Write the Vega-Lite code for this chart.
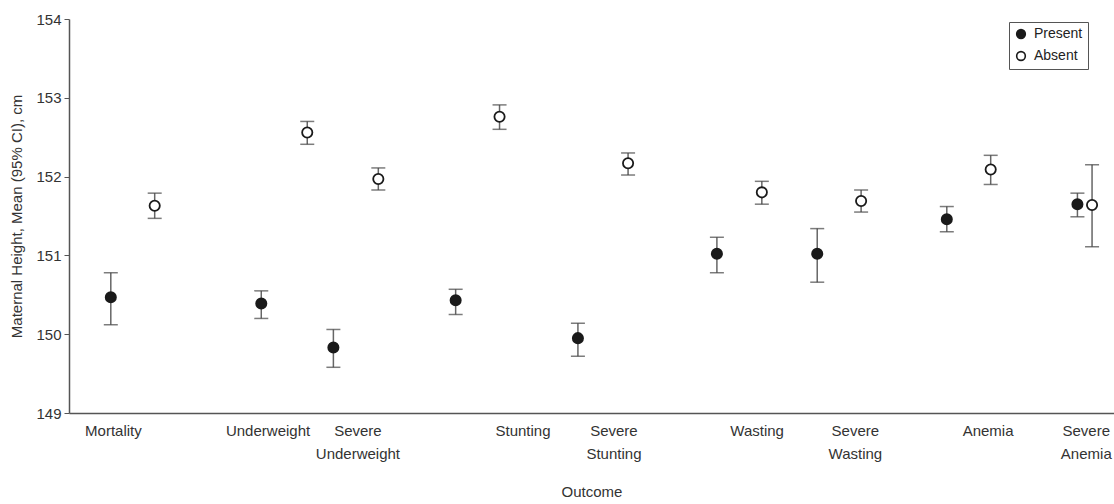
{
  "$schema": "https://vega.github.io/schema/vega-lite/v6.json",
  "width": 1045,
  "height": 394,
  "autosize": {"type": "none"},
  "padding": {"left": 69, "top": 19, "right": 0, "bottom": 91},
  "background": "white",
  "config": {
    "view": {"stroke": null},
    "font": "Liberation Sans",
    "axis": {"labelFont": "Liberation Sans", "titleFont": "Liberation Sans", "labelColor": "#333", "titleColor": "#333", "labelFontSize": 15, "titleFontSize": 15, "titleFontWeight": "normal", "grid": false, "domainColor": "#555", "domainWidth": 1.5, "tickColor": "#555"}
  },
  "data": {
    "values": [
      {"outcome": "Mortality", "group": "Present", "pos": 4.0, "mean": 150.47, "lo": 150.12, "hi": 150.78},
      {"outcome": "Mortality", "group": "Absent", "pos": 8.2, "mean": 151.63, "lo": 151.47, "hi": 151.79},
      {"outcome": "Underweight", "group": "Present", "pos": 18.4, "mean": 150.39, "lo": 150.20, "hi": 150.55},
      {"outcome": "Underweight", "group": "Absent", "pos": 22.8, "mean": 152.56, "lo": 152.41, "hi": 152.70},
      {"outcome": "Severe Underweight", "group": "Present", "pos": 25.3, "mean": 149.83, "lo": 149.58, "hi": 150.06},
      {"outcome": "Severe Underweight", "group": "Absent", "pos": 29.6, "mean": 151.97, "lo": 151.83, "hi": 152.11},
      {"outcome": "Stunting", "group": "Present", "pos": 37.0, "mean": 150.43, "lo": 150.25, "hi": 150.57},
      {"outcome": "Stunting", "group": "Absent", "pos": 41.2, "mean": 152.76, "lo": 152.60, "hi": 152.91},
      {"outcome": "Severe Stunting", "group": "Present", "pos": 48.7, "mean": 149.95, "lo": 149.72, "hi": 150.14},
      {"outcome": "Severe Stunting", "group": "Absent", "pos": 53.5, "mean": 152.17, "lo": 152.02, "hi": 152.30},
      {"outcome": "Wasting", "group": "Present", "pos": 62.0, "mean": 151.02, "lo": 150.78, "hi": 151.23},
      {"outcome": "Wasting", "group": "Absent", "pos": 66.3, "mean": 151.80, "lo": 151.65, "hi": 151.94},
      {"outcome": "Severe Wasting", "group": "Present", "pos": 71.6, "mean": 151.02, "lo": 150.66, "hi": 151.34},
      {"outcome": "Severe Wasting", "group": "Absent", "pos": 75.8, "mean": 151.69, "lo": 151.55, "hi": 151.83},
      {"outcome": "Anemia", "group": "Present", "pos": 84.0, "mean": 151.46, "lo": 151.30, "hi": 151.62},
      {"outcome": "Anemia", "group": "Absent", "pos": 88.2, "mean": 152.09, "lo": 151.90, "hi": 152.27},
      {"outcome": "Severe Anemia", "group": "Present", "pos": 96.5, "mean": 151.65, "lo": 151.49, "hi": 151.79},
      {"outcome": "Severe Anemia", "group": "Absent", "pos": 97.9, "mean": 151.64, "lo": 151.11, "hi": 152.15}
    ]
  },
  "encoding": {
    "x": {
      "field": "pos", "type": "quantitative",
      "scale": {"domain": [0, 100], "nice": false, "zero": false},
      "axis": {
        "title": "Outcome",
        "values": [4.2, 19.0, 27.6, 43.4, 52.1, 65.8, 75.2, 87.9, 97.3],
        "labelExpr": "datum.value == 4.2 ? 'Mortality' : datum.value == 19 ? 'Underweight' : datum.value == 27.6 ? ['Severe', 'Underweight'] : datum.value == 43.4 ? 'Stunting' : datum.value == 52.1 ? ['Severe', 'Stunting'] : datum.value == 65.8 ? 'Wasting' : datum.value == 75.2 ? ['Severe', 'Wasting'] : datum.value == 87.9 ? 'Anemia' : ['Severe', 'Anemia']",
        "ticks": false,
        "labelPadding": 10,
        "labelLineHeight": 23,
        "labelFlush": false,
        "labelOverlap": false,
        "titlePadding": 23
      }
    }
  },
  "layer": [
    {
      "mark": {"type": "rule", "color": "#666", "strokeWidth": 1.5},
      "encoding": {
        "y": {"field": "lo", "type": "quantitative", "scale": {"domain": [149, 154], "nice": false, "zero": false},
          "axis": {"title": "Maternal Height, Mean (95% CI), cm", "values": [149, 150, 151, 152, 153, 154], "format": "d", "tickSize": 5, "labelPadding": 3, "titlePadding": 11}},
        "y2": {"field": "hi"}
      }
    },
    {
      "mark": {"type": "tick", "orient": "horizontal", "color": "#444", "size": 14, "thickness": 1.5},
      "encoding": {"y": {"field": "lo", "type": "quantitative"}}
    },
    {
      "mark": {"type": "tick", "orient": "horizontal", "color": "#444", "size": 14, "thickness": 1.5},
      "encoding": {"y": {"field": "hi", "type": "quantitative"}}
    },
    {
      "mark": {"type": "point", "shape": "circle", "size": 105, "stroke": "#1a1a1a", "strokeWidth": 1.8, "opacity": 1},
      "encoding": {
        "y": {"field": "mean", "type": "quantitative"},
        "fill": {
          "field": "group", "type": "nominal",
          "scale": {"domain": ["Present", "Absent"], "range": ["#1a1a1a", "white"]},
          "legend": {
            "title": null, "orient": "none", "legendX": 940, "legendY": 3,
            "strokeColor": "#555", "fillColor": "white", "padding": 5,
            "labelFont": "Liberation Sans", "labelFontSize": 14, "labelColor": "#222",
            "symbolType": "circle", "symbolSize": 75, "symbolStrokeColor": "#1a1a1a", "symbolStrokeWidth": 1.6,
            "rowPadding": 6, "labelOffset": 6, "labelLimit": 200
          }
        }
      }
    }
  ]
}
